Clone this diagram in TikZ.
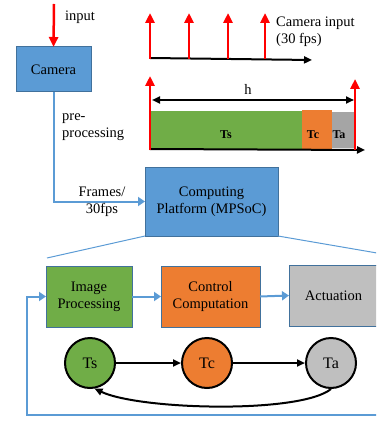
\documentclass[tikz,border=0pt]{standalone}
\usepackage{fontspec}
\setmainfont{Liberation Serif}
\usetikzlibrary{arrows.meta}
\definecolor{bfill}{HTML}{5B9BD5}
\definecolor{bdraw}{HTML}{41719C}
\definecolor{gfill}{HTML}{70AD47}
\definecolor{ofill}{HTML}{ED7D31}
\definecolor{grfill}{HTML}{BFBFBF}
\definecolor{barg}{HTML}{A5A5A5}
\definecolor{bline}{HTML}{5B9BD5}
\tikzset{
  box/.style={draw=bdraw, line width=1pt, inner sep=0pt, outer sep=0pt, align=center, font=\fontsize{14.5}{17}\selectfont},
  lbl/.style={inner sep=0pt, font=\fontsize{14.5}{17}\selectfont},
  circ/.style={circle, draw=black, line width=2pt, minimum size=50pt, inner sep=0pt, font=\fontsize{16}{18}\selectfont},
  bar/.style={inner sep=0pt, outer sep=0pt, anchor=south west},
  barlbl/.style={inner sep=0pt, font=\fontsize{12}{14}\selectfont\bfseries},
  blueline/.style={draw=bline, line width=2pt},
  bluearrow/.style={blueline, -{Triangle[length=7pt,width=9pt]}},
  redarrow/.style={draw=red, line width=2.5pt, -{Triangle[length=10pt,width=9pt]}},
  blackarrow/.style={draw=black, line width=2pt, -{Triangle[length=8pt,width=7pt]}},
}
\begin{document}
\begin{tikzpicture}[x=1pt,y=-1pt]
\useasboundingbox (0,0) rectangle (376,422);
\clip (0,0) rectangle (376,422);

% camera
\node[box, fill=bfill, minimum width=75pt, minimum height=45pt] (cam) at (53.5,69.5) {Camera};
\coordinate (inTop) at (54,4);
\draw[redarrow] (inTop) -- (cam.north);
\node[lbl, anchor=west] (inlbl) at (65,17) {input};
\node[lbl, anchor=west, align=left] (pre) at (62,127) {pre-\\processing};

% computing platform
\node[box, fill=bfill, minimum width=133pt, minimum height=69pt] (comp) at (211.5,201.5) {Computing\\Platform (MPSoC)};
\draw[bluearrow] (cam.south) |- (comp.west);
\node[lbl, align=center] (frames) at (102,202) {Frames/\\30fps};

% zoom lines
\coordinate (zl) at (47,258);
\coordinate (zr) at (377,253);
\draw[draw=bline, line width=1pt] (comp.south west) -- (zl);
\draw[draw=bline, line width=1pt] (comp.south east) -- (zr);

% lower boxes
\node[box, fill=gfill, minimum width=86pt, minimum height=61pt] (img) at (89,296.5) {Image\\Processing};
\node[box, fill=ofill, minimum width=99pt, minimum height=61pt] (ctl) at (210.5,296.5) {Control\\Computation};
\node[box, fill=grfill, minimum width=89pt, minimum height=61pt] (act) at (333.5,295.5) {Actuation};
\draw[bluearrow] (img.east) -- (ctl.west);
\draw[bluearrow] (ctl.east) -- (act.west);
\coordinate (fbR) at (378,415);
\coordinate (fbL) at (27,415);
\draw[bluearrow] (fbR) -- (fbL) |- (img.west);

% circles
\node[circ, fill=gfill] (ts) at (90,363) {Ts};
\node[circ, fill=ofill] (tc) at (207,363) {Tc};
\node[circ, fill=grfill] (ta) at (331,363) {Ta};
\draw[blackarrow] (ts.east) -- (tc.west);
\draw[blackarrow] (tc.east) -- (ta.west);
\draw[blackarrow] (ta.south) .. controls (300,414) and (140,410) .. (ts.-80);

% camera input timeline
\coordinate (ax1a) at (150,58);
\coordinate (ax1b) at (312,60);
\draw[blackarrow] (ax1a) -- (ax1b);
\foreach \x/\n in {150/a,189/b,228/c,265/d}{
  \coordinate (r\n0) at (\x,59);
  \coordinate (r\n1) at (\x,13);
  \draw[redarrow] (r\n0) -- (r\n1);
}
\node[lbl, anchor=west, align=left] (caminlbl) at (276,32) {Camera input\\(30 fps)};

% schedule
\node[bar, fill=gfill, minimum width=151pt, minimum height=38pt] (tsbar) at (151,149) {};
\node[bar, fill=ofill, minimum width=30pt, minimum height=40pt] (tcbar) at (302,150) {};
\node[bar, fill=barg, minimum width=22pt, minimum height=36pt] (tabar) at (332,148) {};
\node[barlbl] (tslbl) at (226,135) {Ts};
\node[barlbl] (tclbl) at (313,135) {Tc};
\node[barlbl] (talbl) at (339,135) {Ta};
\coordinate (ax2a) at (150,149);
\coordinate (ax2b) at (365,150);
\draw[blackarrow] (ax2a) -- (ax2b);
\coordinate (ra0) at (150,150);
\coordinate (ra1) at (150,76);
\coordinate (rb0) at (355,150);
\coordinate (rb1) at (355,79);
\draw[redarrow] (ra0) -- (ra1);
\draw[redarrow] (rb0) -- (rb1);
\coordinate (h0) at (152,100);
\coordinate (h1) at (354,100);
\draw[draw=black, line width=2pt, {Triangle[length=8pt,width=7pt]}-{Triangle[length=8pt,width=7pt]}] (h0) -- (h1);
\node[lbl] (hlbl) at (248,89) {h};
\end{tikzpicture}
\end{document}
